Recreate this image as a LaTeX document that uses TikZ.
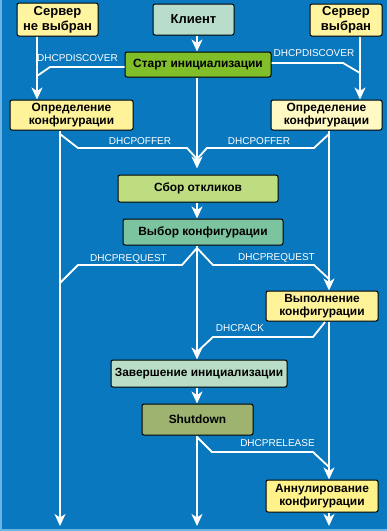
\documentclass[tikz,border=0pt]{standalone}
\usepackage{fontspec}
\setmainfont{Liberation Sans}
\usetikzlibrary{arrows.meta}
\definecolor{bg}{HTML}{0A78BE}
\definecolor{edgec}{HTML}{6AB4E6}
\definecolor{yelA}{HTML}{FFF5A0}
\definecolor{yelB}{HTML}{FFF39A}
\definecolor{yelC}{HTML}{FFF9C4}
\definecolor{yelD}{HTML}{FFF28A}
\definecolor{clientc}{HTML}{B8DDCB}
\definecolor{startc}{HTML}{80BF2A}
\definecolor{collectc}{HTML}{BEDD80}
\definecolor{choosec}{HTML}{7CC39F}
\definecolor{finishc}{HTML}{B9DDC6}
\definecolor{shutc}{HTML}{9DB36F}
\tikzset{
  box/.style={draw=black, line width=1pt, rounded corners=2pt, inner sep=0pt, align=center,
    font=\bfseries\fontsize{11.9}{13}\selectfont},
  bigbox/.style={box, font=\bfseries\fontsize{13}{15}\selectfont},
  wire/.style={draw=white, line width=1.8pt},
  arr/.style={wire, -{Stealth[length=12pt,width=11pt,inset=3.5pt]}},
  lbl/.style={text=white, font=\fontsize{10}{12}\selectfont, inner sep=0pt},
}
\begin{document}
\begin{tikzpicture}[x=1pt,y=-1pt]
\useasboundingbox (0,0) rectangle (387,531);
\fill[bg] (0,0) rectangle (387,531);
\fill[edgec] (0,0) rectangle (1.5,531);
\fill[edgec] (0,529) rectangle (387,531);

% nodes
\node[bigbox, fill=yelA, minimum width=81pt, minimum height=33pt] (srvno) at (57.5,19.5) {Сервер\\не выбран};
\node[bigbox, fill=clientc, minimum width=81pt, minimum height=31pt] (client) at (193.5,19.5) {Клиент};
\node[bigbox, fill=yelA, minimum width=72pt, minimum height=32pt] (srvyes) at (346,20) {Сервер\\выбран};
\node[box, fill=startc, minimum width=146pt, minimum height=25pt] (start) at (198,64.5) {Старт инициализации};
\node[box, fill=yelB, minimum width=123pt, minimum height=30pt] (defL) at (71.5,115) {Определение\\конфигурации};
\node[box, fill=yelC, minimum width=111pt, minimum height=30pt] (defR) at (326.5,115) {Определение\\конфигурации};
\node[box, fill=collectc, minimum width=160pt, minimum height=27pt] (collect) at (198,188.5) {Сбор откликов};
\node[box, fill=choosec, minimum width=160pt, minimum height=26pt] (choose) at (203,232) {Выбор конфигурации};
\node[box, fill=yelB, minimum width=112pt, minimum height=30pt] (exec) at (322,306) {Выполнение\\конфигурации};
\node[box, fill=finishc, minimum width=176pt, minimum height=27pt] (finish) at (199,373.5) {Завершение инициализации};
\node[box, fill=shutc, minimum width=111pt, minimum height=31pt] (shut) at (197.5,419.5) {Shutdown};
\node[box, fill=yelD, minimum width=112pt, minimum height=32pt] (cancel) at (322,496) {Аннулирование\\конфигурации};

% column coordinates
\coordinate (xL) at (37,0);
\coordinate (xL2) at (60,0);
\coordinate (xc) at (197,0);
\coordinate (xR) at (360,0);
\coordinate (xR2) at (329,0);
\coordinate (endL) at (60,526);
\coordinate (endC) at (197,526);
\coordinate (endR) at (329,526);

% main arrows
\draw[arr] (srvno.south -| xL) -- (defL.north -| xL);
\draw[arr] (srvyes.south -| xR) -- (defR.north -| xR);
\draw[arr] (client.south -| xc) -- (start.north -| xc);
\draw[arr, shorten >=6pt] (start.south -| xc) -- (collect.north -| xc);
\draw[arr] (collect.south -| xc) -- (choose.north -| xc);
\draw[arr] (choose.south -| xc) -- (finish.north -| xc);
\draw[arr] (finish.south -| xc) -- (shut.north -| xc);
\draw[arr] (shut.south -| xc) -- (endC);
\draw[arr] (defL.south -| xL2) -- (endL);
\draw[arr] (defR.south -| xR2) -- (exec.north -| xR2);
\draw[arr] (exec.south -| xR2) -- (cancel.north -| xR2);
\draw[arr] (cancel.south -| xR2) -- (endR);

% junctions
\coordinate (jDL) at (37,76);
\coordinate (jDR) at (360,73);
\coordinate (jOL) at (60,134);
\coordinate (jOR) at (329,134);
\coordinate (jOC) at (197,159);
\coordinate (jRC) at (197,248);
\coordinate (jRL) at (60,283);
\coordinate (jRR) at (329,279);
\coordinate (jA0) at (325,322);
\coordinate (jAC) at (197,352);
\coordinate (jSC) at (197,437);
\coordinate (jSR) at (329,467);

% branch wires
\draw[wire] ([yshift=-2.5pt]start.west) -- (50,67) -- (jDL);
\draw[wire] ([yshift=1.5pt]start.east) -- (343,63) -- (jDR);
\draw[wire] (jOL) -- (78,148) -- (187,148) -- (jOC);
\draw[wire] (jOR) -- (314,148) -- (207,148) -- (jOC);
\draw[wire] (jRC) -- (182,265) -- (78,265) -- (jRL);
\draw[wire] (jRC) -- (213,265) -- (314,265) -- (jRR);
\draw[wire] (jA0) -- (313,337) -- (213,337) -- (jAC);
\draw[wire] (jSC) -- (212,452) -- (313,452) -- (jSR);

% labels
\node[lbl] (lDL) at (77.5,58) {DHCPDISCOVER};
\node[lbl] (lDR) at (314,53.5) {DHCPDISCOVER};
\node[lbl] (lOL) at (140,141) {DHCPOFFER};
\node[lbl] (lOR) at (259,141) {DHCPOFFER};
\node[lbl] (lRL) at (128.5,258.5) {DHCPREQUEST};
\node[lbl] (lRR) at (276.5,257.5) {DHCPREQUEST};
\node[lbl] (lA) at (240,328.5) {DHCPACK};
\node[lbl] (lS) at (277.5,443.5) {DHCPRELEASE};
\end{tikzpicture}
\end{document}
